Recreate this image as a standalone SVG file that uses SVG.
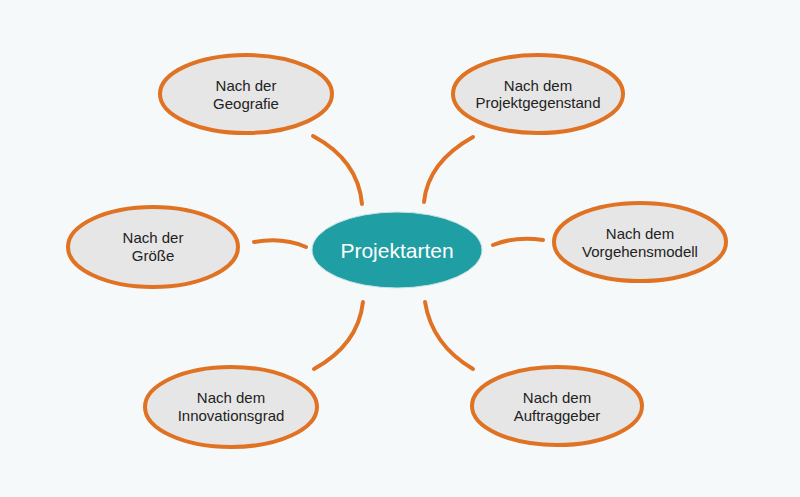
<svg xmlns="http://www.w3.org/2000/svg" width="800" height="497" viewBox="0 0 800 497">
<style>
.bg{fill:#f6f9fa}
.node ellipse{fill:#e6e6e6;stroke:#e07224;stroke-width:4}
.node text{font-family:"Liberation Sans",Arial,sans-serif;font-size:15px;fill:#222;text-anchor:middle}
#connectors path{fill:none;stroke:#e07224;stroke-width:4;stroke-linecap:round}
#center ellipse{fill:#1f9ea3;stroke:#c9e3e4;stroke-width:1}
#center text{font-family:"Liberation Sans",Arial,sans-serif;font-size:21px;fill:#fff;text-anchor:middle}
</style>
<rect class="bg" x="0" y="0" width="800" height="497"/>
<g id="connectors">
<path d="M 313 136 Q 358 160 362 204"/>
<path d="M 473 137 Q 428 162 424 202"/>
<path d="M 363 302 Q 358 345 314 369"/>
<path d="M 425 302 Q 432 345 473 369"/>
<path d="M 254 242 Q 283 237 306 247"/>
<path d="M 493 245 Q 515 236 543 240"/>
</g>
<g id="center">
<ellipse cx="397" cy="250" rx="85" ry="38"/>
<text x="397" y="258">Projektarten</text>
</g>
<g id="n-geografie" class="node">
<ellipse cx="246" cy="94" rx="86" ry="39"/>
<text x="246" y="91">Nach der</text>
<text x="246" y="109">Geografie</text>
</g>
<g id="n-projektgegenstand" class="node">
<ellipse cx="538" cy="94" rx="85" ry="39"/>
<text x="538" y="91">Nach dem</text>
<text x="538" y="108">Projektgegenstand</text>
</g>
<g id="n-groesse" class="node">
<ellipse cx="153" cy="247" rx="85" ry="40"/>
<text x="153" y="243">Nach der</text>
<text x="153" y="261">Größe</text>
</g>
<g id="n-vorgehensmodell" class="node">
<ellipse cx="640" cy="242" rx="86" ry="39"/>
<text x="640" y="239">Nach dem</text>
<text x="640" y="257">Vorgehensmodell</text>
</g>
<g id="n-innovationsgrad" class="node">
<ellipse cx="231" cy="407" rx="86" ry="40"/>
<text x="231" y="403">Nach dem</text>
<text x="231" y="421">Innovationsgrad</text>
</g>
<g id="n-auftraggeber" class="node">
<ellipse cx="557" cy="406" rx="85" ry="39"/>
<text x="557" y="403">Nach dem</text>
<text x="557" y="421">Auftraggeber</text>
</g>
</svg>
